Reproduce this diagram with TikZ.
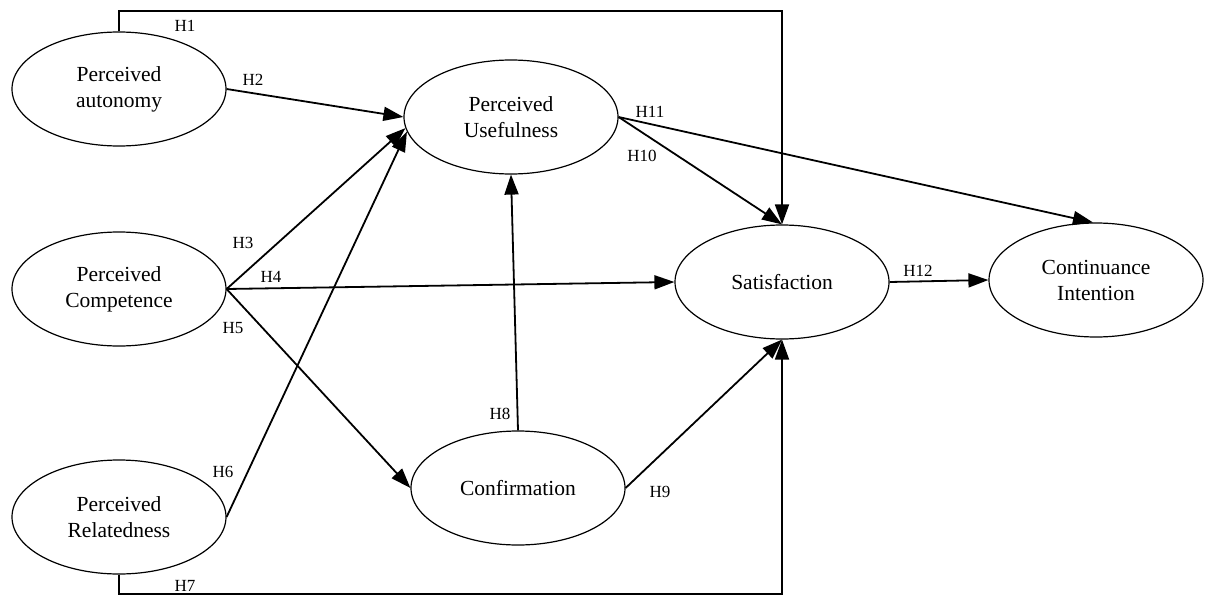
\documentclass[tikz,border=0pt]{standalone}
\usepackage{fontspec}
\setmainfont{Liberation Serif}
\usetikzlibrary{arrows.meta,shapes.geometric}
\begin{document}
\begin{tikzpicture}[x=1pt,y=-1pt,
  construct/.style={draw,ellipse,line width=1.2pt,minimum width=214pt,minimum height=114pt,inner sep=0pt,align=center,font=\fontsize{21.5}{26}\selectfont},
  arr/.style={line width=1.8pt,-{Triangle[length=20pt,width=14pt]}},
  hlab/.style={font=\fontsize{17}{20}\selectfont,inner sep=0pt}]
\useasboundingbox (0,0) rectangle (1205,597);
\node[construct] (aut) at (119,89) {Perceived\\autonomy};
\node[construct] (comp) at (119,289) {Perceived\\Competence};
\node[construct] (rel) at (119,517) {Perceived\\Relatedness};
\node[construct] (use) at (511,117) {Perceived\\Usefulness};
\node[construct] (conf) at (518,488) {Confirmation};
\node[construct] (sat) at (782,282) {Satisfaction};
\node[construct] (ci) at (1096,280) {Continuance\\Intention};
\coordinate (top) at (500,11);
\coordinate (bot) at (500,594);
\draw[arr] (aut.north) |- (top) -| (sat.north);
\draw[arr] (rel.south) |- (bot) -| (sat.south);
\draw[arr] (aut.east) -- (use.west);
\draw[arr] (comp.east) -- (use.186);
\draw[arr] (rel.east) -- (use.188);
\draw[arr] (comp.east) -- (sat.west);
\draw[arr] (comp.east) -- (conf.west);
\draw[arr] (conf.north) -- (use.south);
\draw[arr] (conf.east) -- (sat.south);
\draw[arr] (use.east) -- (sat.north);
\draw[arr] (use.east) -- (ci.93);
\draw[arr] (sat.east) -- (ci.west);
\node[hlab] (h1) at (185,26) {H1};
\node[hlab] (h2) at (253,80) {H2};
\node[hlab] (h3) at (243,243) {H3};
\node[hlab] (h4) at (271,277) {H4};
\node[hlab] (h5) at (233,328) {H5};
\node[hlab] (h6) at (223,472) {H6};
\node[hlab] (h7) at (185,586) {H7};
\node[hlab] (h8) at (500,414) {H8};
\node[hlab] (h9) at (660,492) {H9};
\node[hlab] (h10) at (642,156) {H10};
\node[hlab] (h11) at (650,112) {H11};
\node[hlab] (h12) at (918,271) {H12};
\end{tikzpicture}
\end{document}
